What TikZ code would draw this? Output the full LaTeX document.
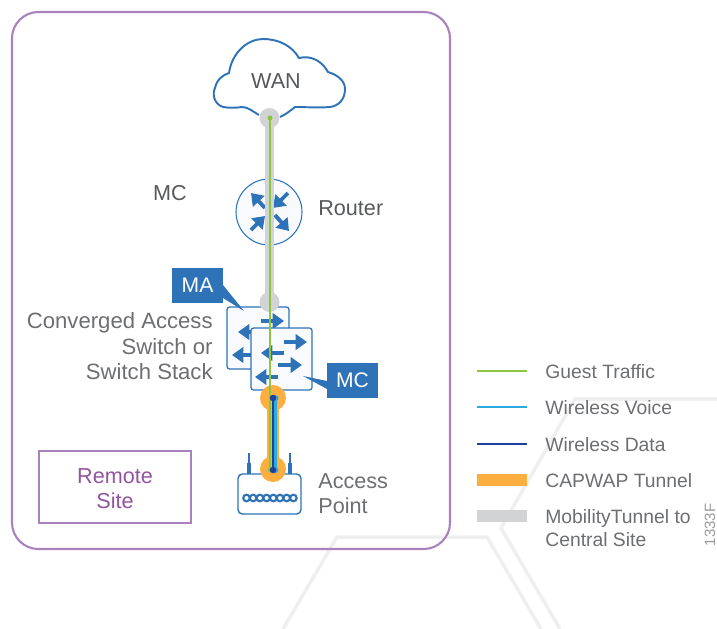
\documentclass[tikz,border=0pt]{standalone}
\usepackage{fontspec}
\setmainfont{Liberation Sans}
\usetikzlibrary{arrows.meta}
\definecolor{ciscoblue}{HTML}{2E72B8}
\definecolor{panelblue}{HTML}{F8FAFD}
\definecolor{sitepurple}{HTML}{A982BD}
\definecolor{sitetext}{HTML}{93549F}
\definecolor{guestgreen}{HTML}{8CC63F}
\definecolor{voiceblue}{HTML}{29ABE2}
\definecolor{datablue}{HTML}{21409A}
\definecolor{capwaporange}{HTML}{FDAE40}
\definecolor{mobilitygray}{HTML}{D1D3D4}
\definecolor{labelgray}{HTML}{58595B}
\definecolor{legendgray}{HTML}{6D6E71}
\definecolor{hexgray}{HTML}{EFEFEF}
\tikzset{
  lbl/.style={inner sep=0pt,text=labelgray,font=\fontsize{12.3}{14}\selectfont},
  convlbl/.style={inner sep=0pt,anchor=east,text=legendgray,font=\fontsize{12.6}{14}\selectfont},
  lglbl/.style={inner sep=0pt,anchor=west,text=legendgray,font=\fontsize{11}{12.5}\selectfont},
  tagbox/.style={fill=ciscoblue,text=white,inner sep=0pt,minimum width=51*0.02cm,minimum height=35*0.02cm,font=\fontsize{12}{14}\selectfont},
  dot/.style={circle,inner sep=0pt,minimum size=#1},
  swarrow/.style={ciscoblue,line width=2.2pt,-{Triangle[length=6.5pt,width=8.8pt]}},
  swbox/.style={draw=ciscoblue,fill=panelblue,line width=0.7pt,rounded corners=1.5pt,inner sep=0pt},
}
\begin{document}
\begin{tikzpicture}[x=0.02cm,y=-0.02cm]
\useasboundingbox (0,0) rectangle (717,629);

% watermark
\draw[hexgray, line width=2pt] (283,629) -- (337,537) -- (487,537) -- (541,629);
\draw[hexgray, line width=2pt] (717,399) -- (575,399) -- (501,528) -- (560,629);

% site
\draw[sitepurple, line width=1.2pt, rounded corners=15pt] (12,12) rectangle (450,549);
\node[draw=sitepurple, line width=1.2pt, minimum width=152*0.02cm, minimum height=72*0.02cm, inner sep=0pt,
  text=sitetext, align=center, font=\fontsize{12.3}{14.2}\selectfont] (remote) at (115,487) {\rule{0pt}{10.7pt}Remote\\Site};

% cloud
\draw[ciscoblue, line width=1.1pt, fill=white] (259,115) .. controls (252,111) and (248,107) .. (242,107)
  .. controls (235,108) and (229,108) .. (223,107) .. controls (214,104) and (212,94) .. (215,88)
  .. controls (217,79) and (223,75) .. (229,73) .. controls (232,52) and (248,39) .. (263,39)
  .. controls (279,39) and (292,46) .. (299,58) .. controls (311,55) and (322,61) .. (328,72)
  .. controls (338,75) and (345,81) .. (345,89) .. controls (345,100) and (338,106) .. (330,107)
  .. controls (318,108) and (307,107) .. (295,107) .. controls (290,111) and (285,115) .. (280,117);
\node[lbl] (wan) at (276,81) {WAN};
\node[lbl] (mc) at (170,193) {MC};

% router
\node[circle, draw=ciscoblue, fill=panelblue, line width=0.6pt, minimum size=66*0.02cm, inner sep=0pt] (router) at (269,212) {};
\draw[swarrow] (265,208) -- (251,193);
\draw[swarrow] (288,193) -- (273,208);
\draw[swarrow] (251,230) -- (265,216);
\draw[swarrow] (275,215) -- (289,231);
\node[lbl, anchor=west] (routerlbl) at (318,208) {Router};

% switch stack
\node[swbox, minimum width=62*0.02cm, minimum height=62*0.02cm] (swback) at (258,338) {};
\draw[swarrow] (261,321) -- (284,321);
\draw[swarrow] (262,332) -- (238,332);
\draw[swarrow] (262,355) -- (232,355);
\node[swbox, minimum width=61*0.02cm, minimum height=62*0.02cm] (swfront) at (281.5,359) {};
\draw[swarrow] (284,342) -- (307,342);
\draw[swarrow] (284,353) -- (261,353);
\draw[swarrow] (278,365) -- (302,365);
\draw[swarrow] (278,377) -- (255,377);
\node[convlbl] (conv1) at (213,323) {Converged Access};
\node[convlbl] (conv2) at (213,347) {Switch or};
\node[convlbl] (conv3) at (213,372) {Switch Stack};

% access point
\draw[ciscoblue, line width=1pt] (249,453) -- (249,464);
\draw[ciscoblue, line width=2.5pt] (249,463) -- (249,475);
\draw[ciscoblue, line width=1pt] (290,453) -- (290,464);
\draw[ciscoblue, line width=2.5pt] (290,463) -- (290,475);
\node[draw=ciscoblue, fill=white, line width=0.8pt, rounded corners=2.5pt, minimum width=63*0.02cm, minimum height=40*0.02cm, inner sep=0pt] (ap) at (269.5,494) {};
\foreach \x in {0,...,7}
  \draw[ciscoblue, line width=1.2pt] (246.5+\x*6.7,498) circle (3.3);
\node[lbl, text=legendgray, anchor=west] (aplbl1) at (318,481) {Access};
\node[lbl, text=legendgray, anchor=west] (aplbl2) at (318,506) {Point};

% tunnels
\node[dot=20*0.02cm, fill=mobilitygray] (mobtop) at (269.5,118) {};
\node[dot=20*0.02cm, fill=mobilitygray] (mobbot) at (269.5,302) {};
\draw[mobilitygray, line width=5pt] (mobtop.center) -- (mobbot.center);
\node[dot=26*0.02cm, fill=capwaporange] (captop) at (273,398) {};
\node[dot=26*0.02cm, fill=capwaporange] (capbot) at (273,469) {};
\draw[capwaporange, line width=6.8pt] (captop.center) -- (capbot.center);
\node[dot=5*0.02cm, fill=guestgreen] (gsttop) at (270,118) {};
\node[dot=5*0.02cm, fill=guestgreen] (gstbot) at (270,470) {};
\draw[guestgreen, line width=1.3pt] (gsttop.center) -- (gstbot.center);
\node[dot=6*0.02cm, fill=voiceblue] (voitop) at (275.5,398) {};
\node[dot=6*0.02cm, fill=voiceblue] (voibot) at (275.5,470) {};
\draw[voiceblue, line width=1.2pt] (voitop.center) -- (voibot.center);
\node[dot=6.5*0.02cm, fill=datablue] (dattop) at (273,398) {};
\node[dot=6.5*0.02cm, fill=datablue] (datbot) at (273,470) {};
\draw[datablue, line width=1.5pt] (dattop.center) -- (datbot.center);

% tags
\node[tagbox] (ma) at (197.5,285.5) {MA};
\coordinate (matip) at (244,311);
\fill[ciscoblue] (223,285) -- (matip) -- (223,298) -- cycle;
\node[tagbox] (mcsw) at (352.5,380.5) {MC};
\coordinate (mctip) at (303,376);
\fill[ciscoblue] (327,381) -- (mctip) -- (327,389) -- cycle;

% legend
\node[lglbl] (lgguest) at (545,372) {Guest Traffic};
\node[lglbl] (lgvoice) at (545,408) {Wireless Voice};
\node[lglbl] (lgdata) at (545,445) {Wireless Data};
\node[lglbl] (lgcap) at (545,481) {CAPWAP Tunnel};
\node[lglbl] (lgmob) at (545,518) {MobilityTunnel to};
\node[lglbl] (lgcentral) at (545,540) {Central Site};
\draw[guestgreen, line width=1.5pt] (lgguest.west) ++(-68,-1) -- ++(50,0);
\draw[voiceblue, line width=1.5pt] (lgvoice.west) ++(-68,-1) -- ++(50,0);
\draw[datablue, line width=1.5pt] (lgdata.west) ++(-68,-1) -- ++(50,0);
\draw[capwaporange, line width=6.8pt] (lgcap.west) ++(-68,-1) -- ++(50,0);
\draw[mobilitygray, line width=6.8pt] (lgmob.west) ++(-68,-2) -- ++(50,0);

\node[rotate=90, inner sep=0pt, text=legendgray!70, font=\fontsize{8.5}{10}\selectfont] (figid) at (710,525) {1333F};
\end{tikzpicture}
\end{document}
